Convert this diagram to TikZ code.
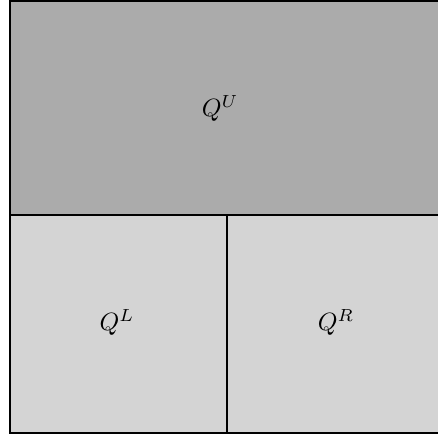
\documentclass[tikz,border=0pt]{standalone}
\begin{document}
\begin{tikzpicture}[x=0.4pt,y=-0.4pt,
  edge/.style={draw=black,line width=0.8pt},
  lab/.style={inner sep=0pt,font=\normalsize}]
\useasboundingbox (0,0) rectangle (438,436);
\begin{scope}
\clip (0,0) rectangle (438,436);
\fill[black!33] (10,0.5) rectangle (446,215);
\fill[black!17] (10,215) rectangle (446,433);
\draw[edge] (10,0.5) rectangle (446,433);
\coordinate (hl) at (10,215);
\coordinate (hr) at (446,215);
\coordinate (vt) at (227,215);
\coordinate (vb) at (227,433);
\draw[edge] (hl) -- (hr);
\draw[edge] (vt) -- (vb);
\end{scope}
\node[lab] (qu) at (220,108) {$Q^U$};
\node[lab] (ql) at (117,322) {$Q^L$};
\node[lab] (qr) at (336,322) {$Q^R$};
\end{tikzpicture}
\end{document}
